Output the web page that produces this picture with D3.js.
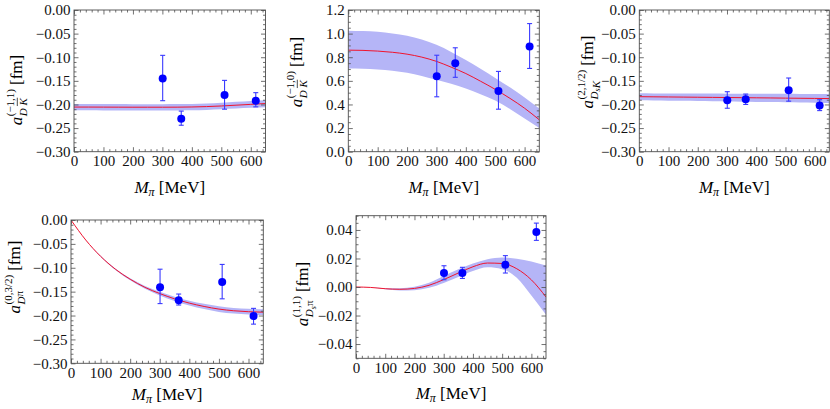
<!DOCTYPE html>
<html>
<head>
<meta charset="utf-8">
<script src="https://cdn.jsdelivr.net/npm/d3@7"></script>
<style>
  body { margin: 0; background: #fff; }
</style>
</head>
<body>
<svg id="chart" width="830" height="409"></svg>
<script>
// ---- data ----
var xTickLabels = [0, 100, 200, 300, 400, 500, 600];
var latticeMpi = [301, 364, 511, 617];               // lattice pion masses
var curveMpi = [0, 50, 100, 150, 200, 250, 300, 350, 400, 450, 500, 550, 600, 650];

// panel 1: a_{D Kbar}^{(-1,1)}
var p1Fit   = [-0.2055, -0.2055, -0.2056, -0.2057, -0.2058, -0.2058, -0.2058, -0.2057, -0.2053, -0.2045, -0.2032, -0.2015, -0.1998, -0.1980];
var p1Lo    = [-0.2125, -0.2125, -0.2126, -0.2127, -0.2128, -0.2128, -0.2128, -0.2127, -0.2123, -0.2115, -0.2102, -0.2087, -0.2072, -0.2058];
var p1Hi    = [-0.1990, -0.1990, -0.1991, -0.1992, -0.1993, -0.1993, -0.1993, -0.1992, -0.1988, -0.1978, -0.1963, -0.1945, -0.1926, -0.1905];
var p1Val   = [-0.145, -0.230, -0.180, -0.192];
var p1ErrLo = [-0.192, -0.244, -0.210, -0.205];
var p1ErrHi = [-0.096, -0.214, -0.149, -0.175];
var p1YTicks = [0, -0.05, -0.10, -0.15, -0.20, -0.25, -0.30];

// panel 2: a_{D Kbar}^{(-1,0)}
var p2Fit   = [0.860, 0.858, 0.852, 0.842, 0.826, 0.801, 0.765, 0.716, 0.662, 0.597, 0.528, 0.452, 0.368, 0.270];
var p2Lo    = [0.705, 0.703, 0.697, 0.686, 0.668, 0.642, 0.609, 0.575, 0.535, 0.487, 0.433, 0.362, 0.282, 0.200];
var p2Hi    = [1.025, 1.022, 1.015, 1.002, 0.982, 0.950, 0.905, 0.845, 0.776, 0.702, 0.625, 0.545, 0.458, 0.365];
var p2Val   = [0.640, 0.750, 0.515, 0.890];
var p2ErrLo = [0.465, 0.630, 0.360, 0.705];
var p2ErrHi = [0.817, 0.880, 0.680, 1.085];
var p2YTicks = [0, 0.2, 0.4, 0.6, 0.8, 1.0, 1.2];

// panel 3: a_{D_s K}^{(2,1/2)}
var p3Fit   = [-0.1835, -0.1838, -0.1841, -0.1844, -0.1847, -0.1850, -0.1853, -0.1856, -0.1859, -0.1862, -0.1866, -0.1869, -0.1872, -0.1875];
var p3Lo    = [-0.1910, -0.1914, -0.1919, -0.1923, -0.1928, -0.1932, -0.1937, -0.1941, -0.1946, -0.1950, -0.1955, -0.1959, -0.1964, -0.1970];
var p3Hi    = [-0.1765, -0.1766, -0.1767, -0.1768, -0.1769, -0.1770, -0.1771, -0.1772, -0.1773, -0.1774, -0.1775, -0.1776, -0.1777, -0.1778];
var p3Val   = [-0.191, -0.189, -0.170, -0.202];
var p3ErrLo = [-0.208, -0.200, -0.193, -0.213];
var p3ErrHi = [-0.173, -0.178, -0.144, -0.190];
var p3YTicks = p1YTicks;

// panel 4: a_{D pi}^{(0,3/2)}
var p4Fit   = [0, -0.0420, -0.0760, -0.1030, -0.1240, -0.1410, -0.1540, -0.1650, -0.1740, -0.1810, -0.1865, -0.1900, -0.1920, -0.1930];
var p4Lo    = [0, -0.0423, -0.0770, -0.1045, -0.1260, -0.1440, -0.1580, -0.1695, -0.1790, -0.1865, -0.1925, -0.1960, -0.1980, -0.1990];
var p4Hi    = [0, -0.0417, -0.0750, -0.1015, -0.1220, -0.1380, -0.1500, -0.1605, -0.1690, -0.1755, -0.1805, -0.1840, -0.1860, -0.1870];
var p4Val   = [-0.141, -0.168, -0.130, -0.201];
var p4ErrLo = [-0.175, -0.178, -0.165, -0.218];
var p4ErrHi = [-0.103, -0.155, -0.093, -0.185];
var p4YTicks = p1YTicks;

// panel 5: a_{D_s pi}^{(1,1)}
var p5Fit   = [0, -0.0003, -0.0012, -0.0016, -0.0010, 0.0012, 0.0052, 0.0098, 0.0142, 0.0168, 0.0165, 0.0128, 0.0050, -0.0070];
var p5Lo    = [0, -0.0004, -0.0016, -0.0024, -0.0022, -0.0006, 0.0028, 0.0070, 0.0112, 0.0138, 0.0125, 0.0065, -0.0060, -0.0195];
var p5Hi    = [0, -0.0002, -0.0008, -0.0008, 0.0002, 0.0030, 0.0078, 0.0125, 0.0165, 0.0195, 0.0207, 0.0198, 0.0178, 0.0150];
var p5Val   = [0.0098, 0.0098, 0.0156, 0.0385];
var p5ErrLo = [0.0051, 0.0060, 0.0098, 0.0327];
var p5ErrHi = [0.0149, 0.0138, 0.0220, 0.0448];
var p5YTicks = [-0.04, -0.02, 0, 0.02, 0.04];

// ---- panel layout ----
var panels = [
  { left: 74, top: 10, w: 191.5, h: 141.7, yDom: [-0.30, 0], yMinor: 0.01, fmt: ".2f", yTicks: p1YTicks,
    fit: p1Fit, lo: p1Lo, hi: p1Hi, val: p1Val, eLo: p1ErrLo, eHi: p1ErrHi, titleY: 192.5,
    labX: 21.5, labY: 90, sup: "(\u22121,1)", sub: [{t: "D"}, {t: " "}, {t: "K", bar: true}] },
  { left: 348.3, top: 10, w: 191, h: 141.7, yDom: [0, 1.2], yMinor: 0.05, fmt: ".1f", yTicks: p2YTicks,
    fit: p2Fit, lo: p2Lo, hi: p2Hi, val: p2Val, eLo: p2ErrLo, eHi: p2ErrHi, titleY: 192.5,
    labX: 301.5, labY: 72, sup: "(\u22121,0)", sub: [{t: "D"}, {t: " "}, {t: "K", bar: true}] },
  { left: 639.3, top: 10, w: 190, h: 141.7, yDom: [-0.30, 0], yMinor: 0.01, fmt: ".2f", yTicks: p3YTicks,
    fit: p3Fit, lo: p3Lo, hi: p3Hi, val: p3Val, eLo: p3ErrLo, eHi: p3ErrHi, titleY: 192.5,
    labX: 592.5, labY: 72, sup: "(2,1/2)", sub: [{t: "D"}, {t: "s", small: true}, {t: "K"}] },
  { left: 71, top: 220, w: 192.3, h: 143.3, yDom: [-0.30, 0], yMinor: 0.01, fmt: ".2f", yTicks: p4YTicks,
    fit: p4Fit, lo: p4Lo, hi: p4Hi, val: p4Val, eLo: p4ErrLo, eHi: p4ErrHi, titleY: 400,
    labX: 20, labY: 277, sup: "(0,3/2)", sub: [{t: "D"}, {t: "\u03c0", up: true}] },
  { left: 356, top: 215.7, w: 190, h: 142.6, yDom: [-0.05, 0.05], yMinor: 0.005, fmt: ".2f", yTicks: p5YTicks,
    fit: p5Fit, lo: p5Lo, hi: p5Hi, val: p5Val, eLo: p5ErrLo, eHi: p5ErrHi, titleY: 399,
    labX: 308, labY: 294, sup: "(1,1)", sub: [{t: "D"}, {t: "s", small: true}, {t: "\u03c0", up: true}] }
];

var FONT = "Liberation Serif";
var svg = d3.select("#chart");
var frameColor = "#4d4d4d";
var bandColor = "#b5b5f7";

function fmtNum(f) {
  var base = d3.format(f);
  return function(d) { return base(d).replace("-", "\u2212"); };
}

panels.forEach(function(p, i) {
  var g = svg.append("g").attr("transform", "translate(" + p.left + "," + p.top + ")");

  var x = d3.scaleLinear().domain([0, 650]).range([0, p.w]);
  var y = d3.scaleLinear().domain(p.yDom).range([p.h, 0]);

  g.append("clipPath").attr("id", "clip" + i)
    .append("rect").attr("width", p.w).attr("height", p.h);

  var plot = g.append("g").attr("clip-path", "url(#clip" + i + ")");

  // error band
  var area = d3.area()
    .x(function(d, k) { return x(curveMpi[k]); })
    .y0(function(d, k) { return y(p.lo[k]); })
    .y1(function(d, k) { return y(p.hi[k]); })
    .curve(d3.curveMonotoneX);
  plot.append("path").datum(p.fit).attr("d", area).attr("fill", bandColor);

  // fit line
  var line = d3.line()
    .x(function(d, k) { return x(curveMpi[k]); })
    .y(function(d) { return y(d); })
    .curve(d3.curveMonotoneX);
  plot.append("path").datum(p.fit).attr("d", line)
    .attr("fill", "none").attr("stroke", "#f0142d").attr("stroke-width", 1);

  // ticks
  var xMinor = d3.range(0, 651, 20).filter(function(v) { return v % 100 !== 0; });
  var yMinor = d3.range(Math.round(p.yDom[0] / p.yMinor), Math.round(p.yDom[1] / p.yMinor) + 1)
    .map(function(k) { return k * p.yMinor; })
    .filter(function(v) { return !p.yTicks.some(function(t) { return Math.abs(t - v) < 1e-9; }); });

  function styleAxis(sel) {
    sel.attr("font-family", FONT).attr("font-size", 15);
    sel.select(".domain").remove();
    sel.selectAll("line").attr("stroke", frameColor).attr("stroke-width", 0.8);
    sel.selectAll("text").attr("fill", "#111");
  }

  g.append("g").attr("transform", "translate(0," + p.h + ")")
    .call(d3.axisBottom(x).tickValues(xTickLabels).tickSize(-4.5).tickPadding(4).tickFormat(d3.format("d")))
    .call(styleAxis);
  g.append("g").attr("transform", "translate(0," + p.h + ")")
    .call(d3.axisBottom(x).tickValues(xMinor).tickSize(-2.5).tickFormat(""))
    .call(styleAxis);
  g.append("g")
    .call(d3.axisTop(x).tickValues(xTickLabels).tickSize(-4.5).tickFormat(""))
    .call(styleAxis);
  g.append("g")
    .call(d3.axisTop(x).tickValues(xMinor).tickSize(-2.5).tickFormat(""))
    .call(styleAxis);
  g.append("g")
    .call(d3.axisLeft(y).tickValues(p.yTicks).tickSize(-4.5).tickPadding(3.5).tickFormat(fmtNum(p.fmt)))
    .call(styleAxis);
  g.append("g")
    .call(d3.axisLeft(y).tickValues(yMinor).tickSize(-2.5).tickFormat(""))
    .call(styleAxis);
  g.append("g").attr("transform", "translate(" + p.w + ",0)")
    .call(d3.axisRight(y).tickValues(p.yTicks).tickSize(-4.5).tickFormat(""))
    .call(styleAxis);
  g.append("g").attr("transform", "translate(" + p.w + ",0)")
    .call(d3.axisRight(y).tickValues(yMinor).tickSize(-2.5).tickFormat(""))
    .call(styleAxis);

  // frame
  g.append("rect").attr("width", p.w).attr("height", p.h)
    .attr("fill", "none").attr("stroke", frameColor).attr("stroke-width", 0.9);

  // lattice points with error bars
  var pts = g.append("g");
  latticeMpi.forEach(function(m, k) {
    var cx = x(m);
    pts.append("line").attr("x1", cx).attr("x2", cx)
      .attr("y1", y(p.eLo[k])).attr("y2", y(p.eHi[k]))
      .attr("stroke", "#3a3aff").attr("stroke-width", 1.1);
    [p.eLo[k], p.eHi[k]].forEach(function(e) {
      pts.append("line").attr("x1", cx - 2.5).attr("x2", cx + 2.5)
        .attr("y1", y(e)).attr("y2", y(e))
        .attr("stroke", "#3a3aff").attr("stroke-width", 1.1);
    });
    pts.append("circle").attr("cx", cx).attr("cy", y(p.val[k])).attr("r", 4)
      .attr("fill", "#0000ff");
  });

  // x title: M_pi [MeV]
  var xt = svg.append("text")
    .attr("x", p.left + p.w / 2).attr("y", p.titleY)
    .attr("text-anchor", "middle").attr("font-family", FONT).attr("font-size", 17);
  xt.append("tspan").attr("font-style", "italic").text("M");
  xt.append("tspan").attr("dy", 3).attr("font-size", 12).attr("font-style", "italic").text("\u03c0");
  xt.append("tspan").attr("dy", -3).text(" [MeV]");

  // y title: a^{sup}_{sub} [fm], rotated
  var yl = svg.append("g")
    .attr("transform", "translate(" + p.labX + "," + p.labY + ") rotate(-90)")
    .attr("font-family", FONT);
  var inner = yl.append("g");
  var aT = inner.append("text").attr("x", 0).attr("y", 0)
    .attr("font-size", 17).attr("font-style", "italic").text("a");
  var wA = aT.node().getComputedTextLength() + 0.5;
  var supT = inner.append("text").attr("x", wA).attr("y", -8)
    .attr("font-size", 11).text(p.sup);
  var subT = inner.append("text").attr("x", wA).attr("y", 5)
    .attr("font-size", 11);
  p.sub.forEach(function(s) {
    var ts = subT.append("tspan").text(s.t);
    if (s.t !== " " && !s.up) ts.attr("font-style", "italic");
    if (s.small) ts.attr("dy", 2.5).attr("font-size", 8);
    if (s.up) ts.attr("dy", -2.5);
  });
  // overbar above K
  var subStr = p.sub.map(function(s) { return s.t; }).join("");
  p.sub.forEach(function(s) {
    if (!s.bar) return;
    var idx = subStr.indexOf(s.t);
    var n = subT.node();
    var x0 = n.getStartPositionOfChar(idx).x, x1 = n.getEndPositionOfChar(idx).x;
    inner.append("line").attr("x1", x0 - 0.5).attr("x2", x1 + 0.5)
      .attr("y1", -4.2).attr("y2", -4.2).attr("stroke", "#000").attr("stroke-width", 0.7);
  });
  var wScript = Math.max(supT.node().getComputedTextLength(), subT.node().getComputedTextLength());
  var fmT = inner.append("text").attr("x", wA + wScript + 4).attr("y", 0)
    .attr("font-size", 17).text("[fm]");
  var total = wA + wScript + 4 + fmT.node().getComputedTextLength();
  inner.attr("transform", "translate(" + (-total / 2) + ",0)");
});
</script>
</body>
</html>
